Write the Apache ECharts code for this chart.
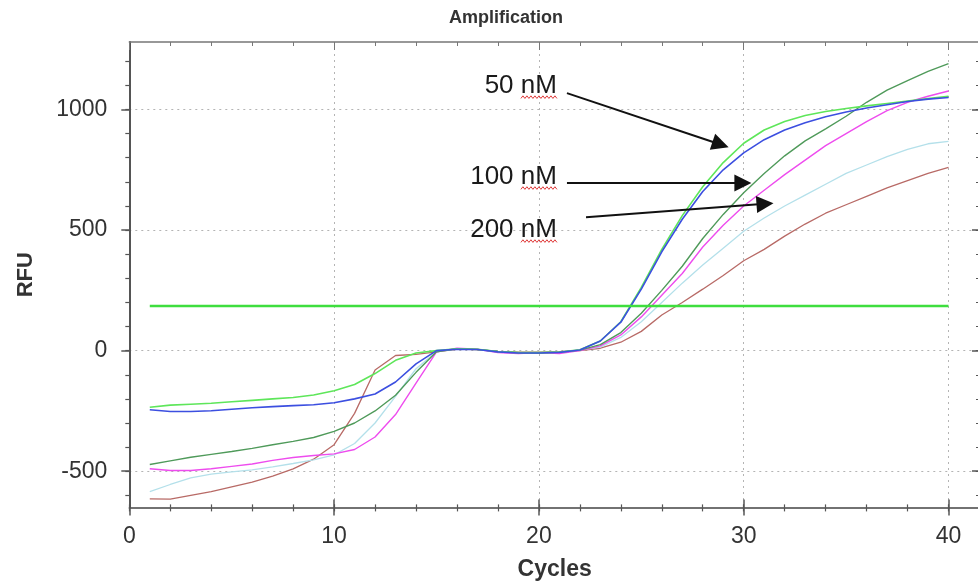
<!DOCTYPE html>
<html><head><meta charset="utf-8">
<script src="https://cdn.jsdelivr.net/npm/echarts@6/dist/echarts.min.js"></script>
<style>html,body{margin:0;padding:0;background:#fff}#c{width:978px;height:586px}</style>
</head><body><div id="c"></div>
<script>
// ---------------- data ----------------
const cycles = [1,2,3,4,5,6,7,8,9,10,11,12,13,14,15,16,17,18,19,20,21,22,23,24,25,26,27,28,29,30,31,32,33,34,35,36,37,38,39,40];
const lightGreen = [-235,-226,-222,-218,-212,-206,-200,-194,-184,-166,-140,-95,-40,-10,0,8,6,-4,-8,-8,-6,4,40,120,262,420,560,680,780,860,915,950,975,992,1004,1015,1025,1035,1045,1055];
const blue       = [-245,-252,-252,-249,-243,-237,-232,-228,-224,-216,-200,-180,-130,-55,0,6,5,-5,-10,-10,-7,3,40,118,255,410,545,660,750,820,875,915,945,970,990,1006,1020,1033,1043,1050];
const darkGreen  = [-472,-457,-442,-430,-418,-405,-390,-376,-360,-335,-300,-250,-185,-90,-5,8,5,-3,-8,-10,-6,2,25,75,155,250,350,465,565,655,735,808,870,920,972,1030,1080,1120,1158,1190];
const magenta    = [-490,-497,-497,-490,-480,-470,-455,-443,-435,-428,-410,-358,-265,-135,-5,10,6,-8,-12,-8,-12,0,20,65,140,230,320,430,520,600,665,730,790,850,900,950,995,1030,1055,1077];
const lightCyan  = [-585,-555,-528,-512,-503,-494,-482,-468,-453,-432,-385,-300,-190,-75,-5,8,5,-5,-8,-8,-6,2,15,55,120,200,280,355,425,495,550,600,645,690,735,770,805,835,858,868];
const brown      = [-615,-616,-600,-585,-565,-545,-520,-490,-450,-390,-260,-80,-20,-15,-5,6,4,-3,-6,-6,-4,0,10,35,80,148,200,255,312,373,420,475,525,570,605,640,675,705,735,760];
const thresholdCycles = [1, 40];
const thresholdValue = 185;
const xTickLabels = [0,10,20,30,40];
const yTickLabels = [-500,0,500,1000];
const labels = ['50 nM','100 nM','200 nM'];
// arrows [startCycle,startRFU,endCycle,endRFU] and label anchors [cycle,RFU]
const arrows = [[21.37,1068,28.87,855],[21.37,695,29.96,695],[22.3,553,31.04,609]];
const labelAnchors = [[20.88,1097],[20.88,720],[20.88,500]];

// ---------------- layout ----------------
const W = 978, H = 586;
const plotLeft = 129.3, plotTop = 42, plotBottom = 507.4, plotRight = 980;
const xPxPerUnit = 20.48;
const xMin = 0, xMax = (plotRight - plotLeft) / xPxPerUnit;
const yMin = -650, yMax = 1280;
const pxPerY = (plotBottom - plotTop) / (yMax - yMin);
function subGrid(lo, hi) {
  return { left: plotLeft, right: W - plotRight,
           top: plotBottom - (hi - yMin) * pxPerY,
           bottom: H - (plotBottom - (lo - yMin) * pxPerY),
           containLabel:false, outerBoundsMode:'none' };
}
const FONT = '"Liberation Sans", Arial, Helvetica, sans-serif';
const pair = arr => cycles.map((c, i) => [c, arr[i]]);

const noAxis = { axisLine:{show:false,onZero:false}, axisLabel:{show:false}, axisTick:{show:false}, splitLine:{show:false} };
function xAx(o) { return Object.assign({ type:'value', min:xMin, max:xMax, gridIndex:0 }, noAxis, o); }
function yAx(o) { return Object.assign({ type:'value' }, noAxis, o); }
const tickCol = '#555';
const dotted = { show:true, lineStyle:{ color:'#b4b4b4', width:1, type:[2,4] } };

const option = {
  animation: false,
  backgroundColor: '#fff',
  grid: [
    { left: plotLeft, right: W - plotRight, top: plotTop, bottom: H - plotBottom, containLabel:false, outerBoundsMode:'none' },
    subGrid(-500, 1000),
    subGrid(-600, 1200)
  ],
  xAxis: [
    xAx({ position:'bottom', interval:10,
      axisLine:{show:true,onZero:false,lineStyle:{color:'#444',width:1.5}},
      axisTick:{show:true,inside:false,length:8,lineStyle:{color:tickCol,width:1.5}},
      axisLabel:{show:true,fontSize:23,color:'#333',fontFamily:FONT,margin:18,
        formatter: v => xTickLabels.includes(v) ? String(v) : ''},
      splitLine: dotted,
      name:'Cycles', nameLocation:'middle', nameGap:51,
      nameTextStyle:{fontSize:23,fontWeight:'bold',color:'#333',fontFamily:FONT} }),
    xAx({ position:'bottom', interval:10, axisTick:{show:true,inside:true,length:8,lineStyle:{color:tickCol,width:1.5}} }),
    xAx({ position:'bottom', interval:2, axisTick:{show:true,inside:false,length:4,lineStyle:{color:tickCol,width:1.2}} }),
    xAx({ position:'bottom', interval:2, axisTick:{show:true,inside:true,length:3,lineStyle:{color:tickCol,width:1.2}} }),
    xAx({ position:'top', interval:2,
      axisLine:{show:true,onZero:false,lineStyle:{color:'#777',width:1.5}},
      axisTick:{show:true,inside:true,length:4,lineStyle:{color:'#777',width:1}} }),
    xAx({ position:'top', interval:10, axisTick:{show:true,inside:true,length:8,lineStyle:{color:'#777',width:1}} }),
    xAx({ gridIndex:1, show:false }),
    xAx({ gridIndex:2, show:false })
  ],
  yAxis: [
    yAx({ gridIndex:0, min:yMin, max:yMax,
      axisLine:{show:true,onZero:false,lineStyle:{color:'#555',width:2}},
      name:'RFU', nameLocation:'middle', nameGap:92,
      nameTextStyle:{fontSize:22,fontWeight:'bold',color:'#333',fontFamily:FONT} }),
    yAx({ gridIndex:1, min:-500, max:1000, interval:500,
      axisTick:{show:true,inside:false,length:8,lineStyle:{color:tickCol,width:1.5}},
      axisLabel:{show:true,fontSize:23,color:'#333',fontFamily:FONT,margin:22,
        formatter: v => yTickLabels.includes(v) ? String(v) : ''},
      splitLine: dotted }),
    yAx({ gridIndex:1, min:-500, max:1000, interval:500,
      axisTick:{show:true,inside:true,length:8,lineStyle:{color:tickCol,width:1.5}} }),
    yAx({ gridIndex:2, min:-600, max:1200, interval:100,
      axisTick:{show:true,inside:false,length:4,lineStyle:{color:tickCol,width:1.2}} }),
    yAx({ gridIndex:2, min:-600, max:1200, interval:100,
      axisTick:{show:true,inside:true,length:4,lineStyle:{color:tickCol,width:1.2}} })
  ],
  series: [
    { name:'brown', data: pair(brown), color:'#b86a66', lineStyle:{width:1.3} },
    { name:'lightCyan', data: pair(lightCyan), color:'#b4e0ea', lineStyle:{width:1.3} },
    { name:'magenta', data: pair(magenta), color:'#ee4cee', lineStyle:{width:1.4} },
    { name:'darkGreen', data: pair(darkGreen), color:'#4f9a5a', lineStyle:{width:1.4} },
    { name:'lightGreen', data: pair(lightGreen), color:'#5ee65a', lineStyle:{width:1.6} },
    { name:'blue', data: pair(blue), color:'#3c4fe0', lineStyle:{width:1.6} },
    { name:'threshold', data: thresholdCycles.map(c => [c, thresholdValue]), color:'#3ede3e', z:5,
      lineStyle:{width:2.6},
      markLine: {
        silent:true, symbol:['none','triangle'], symbolSize:17,
        lineStyle:{color:'#111', width:2, type:'solid'},
        label:{show:false}, emphasis:{disabled:true},
        data: arrows.map(a => [{coord:[a[0],a[1]]},{coord:[a[2],a[3]]}])
      } }
  ].map(s => Object.assign({ type:'line', xAxisIndex:0, yAxisIndex:0, showSymbol:false, symbol:'none', smooth:false, animation:false }, s))
};

const chart = echarts.init(document.getElementById('c'), null, { renderer:'canvas' });
chart.setOption(option);

// annotation texts + red spell-check squiggles, placed through the chart's scales
const g = [{
  type:'text', x: 506, y: 18,
  style:{ text:'Amplification', font:'bold 18px ' + FONT, fill:'#333', align:'center', verticalAlign:'middle', textAlign:'center', textVerticalAlign:'middle' }
}];
labels.forEach((t, i) => {
  const p = chart.convertToPixel({xAxisIndex:0, yAxisIndex:0}, labelAnchors[i]);
  g.push({ type:'text', x:p[0], y:p[1],
    style:{ text:t, font:'26px ' + FONT, fill:'#1a1a1a', align:'right', verticalAlign:'middle', textAlign:'right', textVerticalAlign:'middle' } });
  const pts = [];
  const x0 = p[0] - 36, yb = p[1] + 11;
  for (let k = 0; k <= 18; k++) pts.push([x0 + k * 2, yb + (k % 2 ? -1.3 : 1.3)]);
  g.push({ type:'polyline', shape:{ points: pts }, style:{ stroke:'#e03a3a', lineWidth:1, fill:null } });
});
chart.setOption({ graphic: g });
</script>
</body></html>
